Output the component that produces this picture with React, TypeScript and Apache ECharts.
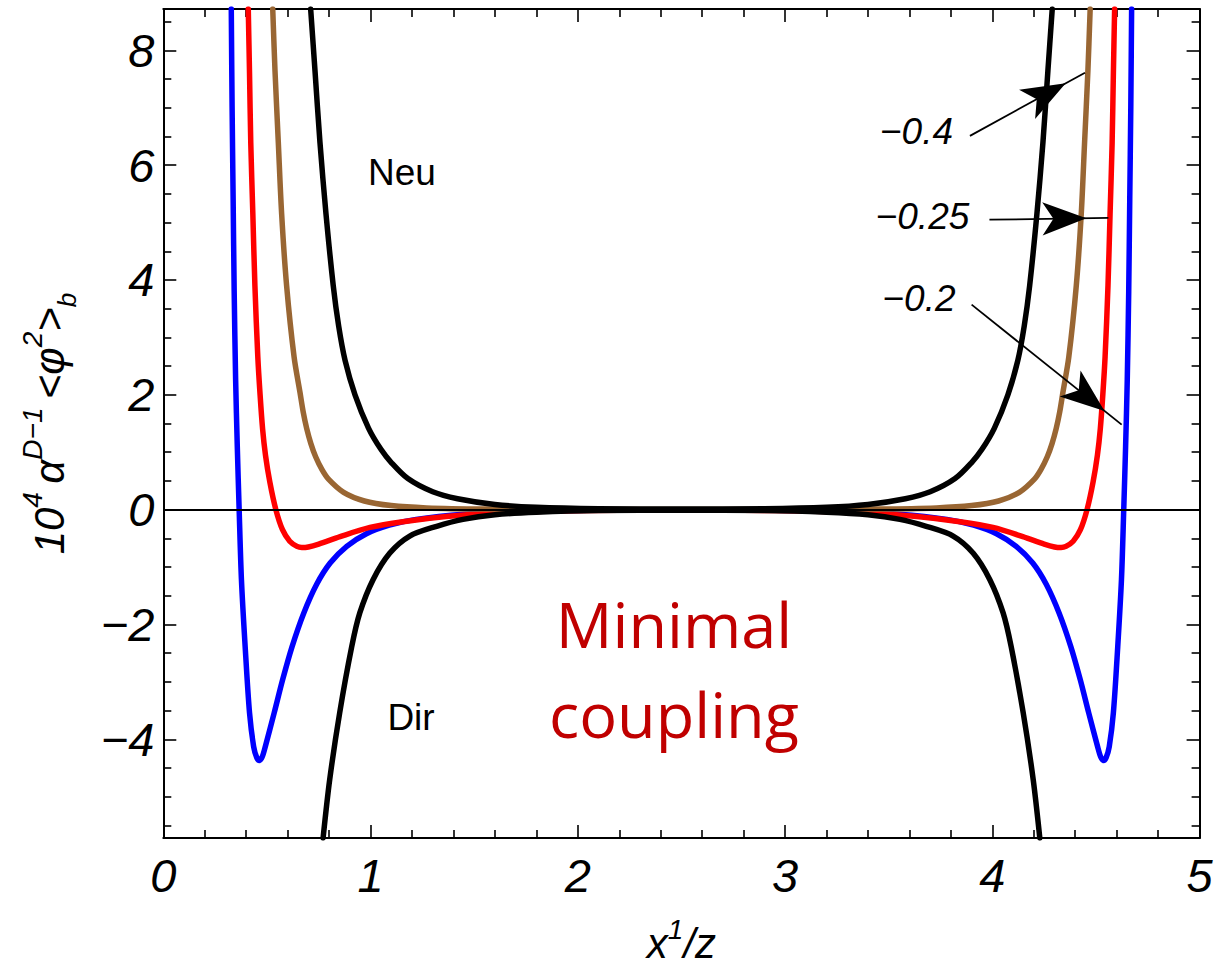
import React, { useEffect, useRef } from 'react';
import * as echarts from 'echarts';

// ---------- data ----------
const xTickValues = [0, 1, 2, 3, 4, 5];
const yMajorTicks = [-4, -2, 0, 2, 4, 6, 8];
const yMinorTicks = [-5.5, -5, -4.5, -3.5, -3, -2.5, -1.5, -1, -0.5, 0.5, 1, 1.5, 2.5, 3, 3.5, 4.5, 5, 5.5, 6.5, 7, 7.5, 8.5];
const xRange = [0, 5];
const yRange = [-5.72, 8.72];

// blue curve (−0.2)
const blueCurve = [
  [0.328, 8.72], [0.332, 7.0], [0.337, 5.4], [0.342, 3.8], [0.349, 2.26], [0.357, 1.1], [0.366, 0],
  [0.377, -1.22], [0.395, -2.39], [0.416, -3.54], [0.436, -4.13], [0.451, -4.32], [0.464, -4.37],
  [0.477, -4.31], [0.492, -4.13], [0.535, -3.54], [0.576, -2.96], [0.621, -2.39], [0.678, -1.80],
  [0.740, -1.30], [0.805, -0.93], [0.885, -0.64], [0.980, -0.42], [1.09, -0.27], [1.22, -0.17],
  [1.45, -0.08], [1.72, -0.03], [2.05, -0.01], [2.5, -0.005],
  [2.95, -0.01], [3.28, -0.03], [3.55, -0.08], [3.78, -0.17], [3.91, -0.27], [4.02, -0.42],
  [4.115, -0.64], [4.195, -0.93], [4.260, -1.30], [4.322, -1.80], [4.379, -2.39], [4.424, -2.96],
  [4.465, -3.54], [4.508, -4.13], [4.523, -4.31], [4.536, -4.37], [4.549, -4.32], [4.564, -4.13],
  [4.584, -3.54], [4.605, -2.39], [4.623, -1.22], [4.634, 0], [4.643, 1.1], [4.651, 2.26],
  [4.658, 3.8], [4.663, 5.4], [4.668, 7.0], [4.672, 8.72],
];

// red curve (−0.25)
const redCurve = [
  [0.410, 8.72], [0.416, 7.6], [0.422, 6.39], [0.432, 5.15], [0.442, 3.90], [0.456, 2.66],
  [0.467, 2.0], [0.479, 1.41], [0.493, 0.95], [0.514, 0.48], [0.543, 0], [0.575, -0.35],
  [0.610, -0.55], [0.645, -0.64], [0.668, -0.66], [0.700, -0.65], [0.750, -0.60], [0.853, -0.47],
  [0.997, -0.31], [1.156, -0.21], [1.364, -0.12], [1.6, -0.06], [1.9, -0.025], [2.2, -0.01],
  [2.5, -0.005],
  [2.8, -0.01], [3.1, -0.025], [3.4, -0.06], [3.636, -0.12], [3.844, -0.21], [4.003, -0.31],
  [4.147, -0.47], [4.250, -0.60], [4.300, -0.65], [4.332, -0.66], [4.355, -0.64], [4.390, -0.55],
  [4.425, -0.35], [4.457, 0], [4.486, 0.48], [4.507, 0.95], [4.521, 1.41], [4.533, 2.0],
  [4.544, 2.66], [4.558, 3.90], [4.568, 5.15], [4.578, 6.39], [4.584, 7.6], [4.590, 8.72],
];

// brown curve (−0.4)
const brownCurve = [
  [0.528, 8.72], [0.539, 7.64], [0.555, 6.39], [0.571, 5.15], [0.595, 3.90], [0.631, 2.66],
  [0.660, 2.03], [0.675, 1.70], [0.692, 1.41], [0.712, 1.15], [0.735, 0.92], [0.765, 0.70],
  [0.797, 0.53], [0.870, 0.30], [0.970, 0.15], [1.10, 0.07], [1.27, 0.03], [1.55, 0.01],
  [2.0, 0.003], [2.5, 0],
  [3.0, 0.003], [3.45, 0.01], [3.73, 0.03], [3.90, 0.07], [4.03, 0.15], [4.13, 0.30],
  [4.203, 0.53], [4.235, 0.70], [4.265, 0.92], [4.288, 1.15], [4.308, 1.41], [4.325, 1.70],
  [4.340, 2.03], [4.369, 2.66], [4.405, 3.90], [4.429, 5.15], [4.445, 6.39], [4.461, 7.64],
  [4.472, 8.72],
];

// black, Dirichlet branch
const dirCurve = [
  [0.771, -5.72], [0.803, -4.70], [0.851, -3.54], [0.909, -2.39], [0.948, -1.80], [1.012, -1.22],
  [1.092, -0.76], [1.189, -0.46], [1.319, -0.29], [1.446, -0.17], [1.6, -0.09], [1.8, -0.045],
  [2.1, -0.015], [2.5, -0.01],
  [2.9, -0.015], [3.2, -0.045], [3.4, -0.09], [3.554, -0.17], [3.681, -0.29], [3.811, -0.46],
  [3.908, -0.76], [3.988, -1.22], [4.052, -1.80], [4.091, -2.39], [4.149, -3.54], [4.197, -4.70],
  [4.229, -5.72],
];

// black, Neumann branch
const neuCurve = [
  [0.711, 8.72], [0.732, 7.64], [0.756, 6.39], [0.785, 5.15], [0.820, 3.90], [0.846, 3.20],
  [0.877, 2.60], [0.925, 2.00], [0.990, 1.42], [1.050, 1.05], [1.100, 0.82], [1.180, 0.54],
  [1.300, 0.31], [1.420, 0.19], [1.60, 0.09], [1.80, 0.04], [2.1, 0.015], [2.5, 0.01],
  [2.9, 0.015], [3.20, 0.04], [3.40, 0.09], [3.58, 0.19], [3.70, 0.31], [3.82, 0.54],
  [3.90, 0.82], [3.95, 1.05], [4.01, 1.42], [4.075, 2.00], [4.123, 2.60], [4.154, 3.20],
  [4.180, 3.90], [4.215, 5.15], [4.244, 6.39], [4.268, 7.64], [4.289, 8.72],
];

// annotation arrows (tail -> head, in data units)
const arrowTails = [[3.892, 6.51], [3.986, 5.05], [3.900, 3.57]];
const arrowHeads = [[4.447, 7.61], [4.560, 5.08], [4.624, 1.48]];
const arrowLabels = ['\u22120.4', '\u22120.25', '\u22120.2'];

// ---------- styling ----------
const FONT = '"Liberation Sans", Arial, Helvetica, sans-serif';
const fmt = (v: number) => (v < 0 ? '\u2212' + Math.abs(v) : String(v));

export default function App() {
  const ref = useRef<HTMLDivElement>(null);

  useEffect(() => {
    document.body.style.margin = '0';
    const chart = echarts.init(ref.current!, null, { renderer: 'svg' });

    const tickStyle = { color: '#000', width: 1.6 };
    const axisLineStyle = { color: '#000', width: 2 };

    const baseX = (pos: string, labels: boolean) => ({
      type: 'value',
      min: xRange[0],
      max: xRange[1],
      interval: 1,
      position: pos,
      axisLine: { show: true, onZero: false, lineStyle: axisLineStyle },
      axisTick: { show: true, inside: true, length: 13, lineStyle: tickStyle },
      minorTick: { show: true, splitNumber: 5, length: 8, lineStyle: tickStyle },
      splitLine: { show: false },
      minorSplitLine: { show: false },
      axisLabel: labels
        ? {
            show: true,
            margin: 14,
            fontSize: 47,
            fontStyle: 'italic',
            fontFamily: FONT,
            color: '#000',
            formatter: (v: number) => (xTickValues.includes(v) ? fmt(v) : ''),
          }
        : { show: false },
    });

    const baseY = (pos: string, major: boolean, labels: boolean, line: boolean) => ({
      type: 'value',
      min: yRange[0],
      max: yRange[1],
      position: pos,
      axisLine: { show: line, onZero: false, lineStyle: axisLineStyle },
      axisTick: {
        show: true,
        inside: true,
        length: major ? 13 : 8,
        lineStyle: tickStyle,
        customValues: major ? yMajorTicks : yMinorTicks,
      },
      splitLine: { show: false },
      axisLabel: labels
        ? {
            show: true,
            customValues: yMajorTicks,
            margin: 9,
            fontSize: 47,
            fontStyle: 'italic',
            fontFamily: FONT,
            color: '#000',
            formatter: (v: number) => fmt(v),
          }
        : { show: false },
    });

    const xBottom: any = baseX('bottom', true);
    xBottom.name = '{n|x}{s|1}{n|/z}';
    xBottom.nameLocation = 'middle';
    xBottom.nameGap = 77;
    xBottom.nameMoveOverlap = false;
    xBottom.nameTextStyle = {
      fontSize: 42,
      fontFamily: FONT,
      fontStyle: 'italic',
      color: '#000',
      rich: {
        n: { fontSize: 42, fontFamily: FONT, fontStyle: 'italic', color: '#000', lineHeight: 56 },
        s: { fontSize: 28, fontFamily: FONT, fontStyle: 'italic', color: '#000', lineHeight: 30, verticalAlign: 'top' },
      },
    };

    const yLeft: any = baseY('left', true, true, true);
    yLeft.name = '{n|10}{s|4}{n|\u2009\u03b1}{s|D\u22121}{n|\u2009<\u03c6}{s|2}{n|>}{b|b}';
    yLeft.nameLocation = 'middle';
    yLeft.nameRotate = 90;
    yLeft.nameGap = 83;
    yLeft.nameMoveOverlap = false;
    yLeft.nameTextStyle = {
      fontSize: 42,
      fontFamily: FONT,
      fontStyle: 'italic',
      color: '#000',
      rich: {
        n: { fontSize: 42, fontFamily: FONT, fontStyle: 'italic', color: '#000', lineHeight: 62 },
        s: { fontSize: 28, fontFamily: FONT, fontStyle: 'italic', color: '#000', lineHeight: 30, verticalAlign: 'top' },
        b: { fontSize: 26, fontFamily: FONT, fontStyle: 'italic', color: '#000', lineHeight: 30, verticalAlign: 'bottom' },
      },
    };

    const curves = [
      { name: 'blue', data: blueCurve, color: '#0000ff' },
      { name: 'red', data: redCurve, color: '#ff0000' },
      { name: 'brown', data: brownCurve, color: '#996633' },
      { name: 'Dir', data: dirCurve, color: '#000000' },
      { name: 'Neu', data: neuCurve, color: '#000000' },
    ];

    const series: any[] = curves.map((c) => ({
      type: 'line',
      name: c.name,
      data: c.data,
      xAxisIndex: 0,
      yAxisIndex: 0,
      showSymbol: false,
      symbol: 'none',
      smooth: 0.3,
      clip: true,
      silent: true,
      lineStyle: { color: c.color, width: 5.5, cap: 'round', join: 'round' },
      itemStyle: { color: c.color },
    }));

    series[series.length - 1].markLine = {
      silent: true,
      animation: false,
      symbol: ['none', 'none'],
      label: { show: false },
      emphasis: { disabled: true },
      lineStyle: { color: '#000', width: 1.8, type: 'solid' },
      itemStyle: { color: '#000' },
      data: [
        { yAxis: 0, lineStyle: { color: '#000', width: 2, type: 'solid' } },
        ...arrowTails.map((t, i) => [
          { coord: t, symbol: 'none' },
          { coord: arrowHeads[i], symbol: 'arrow', symbolSize: [25, 44], symbolOffset: [0, 22] },
        ]),
      ],
    };

    const labelPos = [
      [916.5, 131],
      [922.5, 216.7],
      [919, 298.3],
    ];

    const txt = (text: string, x: number, y: number, size: number, opts: any = {}) => ({
      type: 'text',
      x,
      y,
      silent: true,
      z: 10,
      style: {
        text,
        fontSize: size,
        fontFamily: opts.family || FONT,
        fontStyle: opts.italic ? 'italic' : 'normal',
        fill: opts.color || '#000',
        align: 'center',
        textAlign: 'center',
        verticalAlign: 'middle',
        textVerticalAlign: 'middle',
      },
    });

    const graphic: any[] = [
      txt('Neu', 402, 172, 37),
      txt('Dir', 411, 717, 37),
      ...arrowLabels.map((l, i) => txt(l, labelPos[i][0], labelPos[i][1], 37, { italic: true })),
      txt('Minimal', 674, 623, 63, { family: '"Open Sans", "Noto Sans", sans-serif', color: '#c00000' }),
      txt('coupling', 674, 713, 63, { family: '"Open Sans", "Noto Sans", sans-serif', color: '#c00000' }),
    ];

    chart.setOption({
      animation: false,
      backgroundColor: '#ffffff',
      grid: {
        left: 163.3,
        top: 9,
        width: 1036.3,
        height: 829,
        containLabel: false,
        outerBoundsMode: 'none',
        show: false,
      },
      xAxis: [xBottom, baseX('top', false)],
      yAxis: [
        yLeft,
        baseY('left', false, false, false),
        baseY('right', true, false, true),
        baseY('right', false, false, false),
      ],
      series,
      graphic,
    });

    return () => chart.dispose();
  }, []);

  return <div ref={ref} style={{ width: 1217, height: 974 }} />;
}
